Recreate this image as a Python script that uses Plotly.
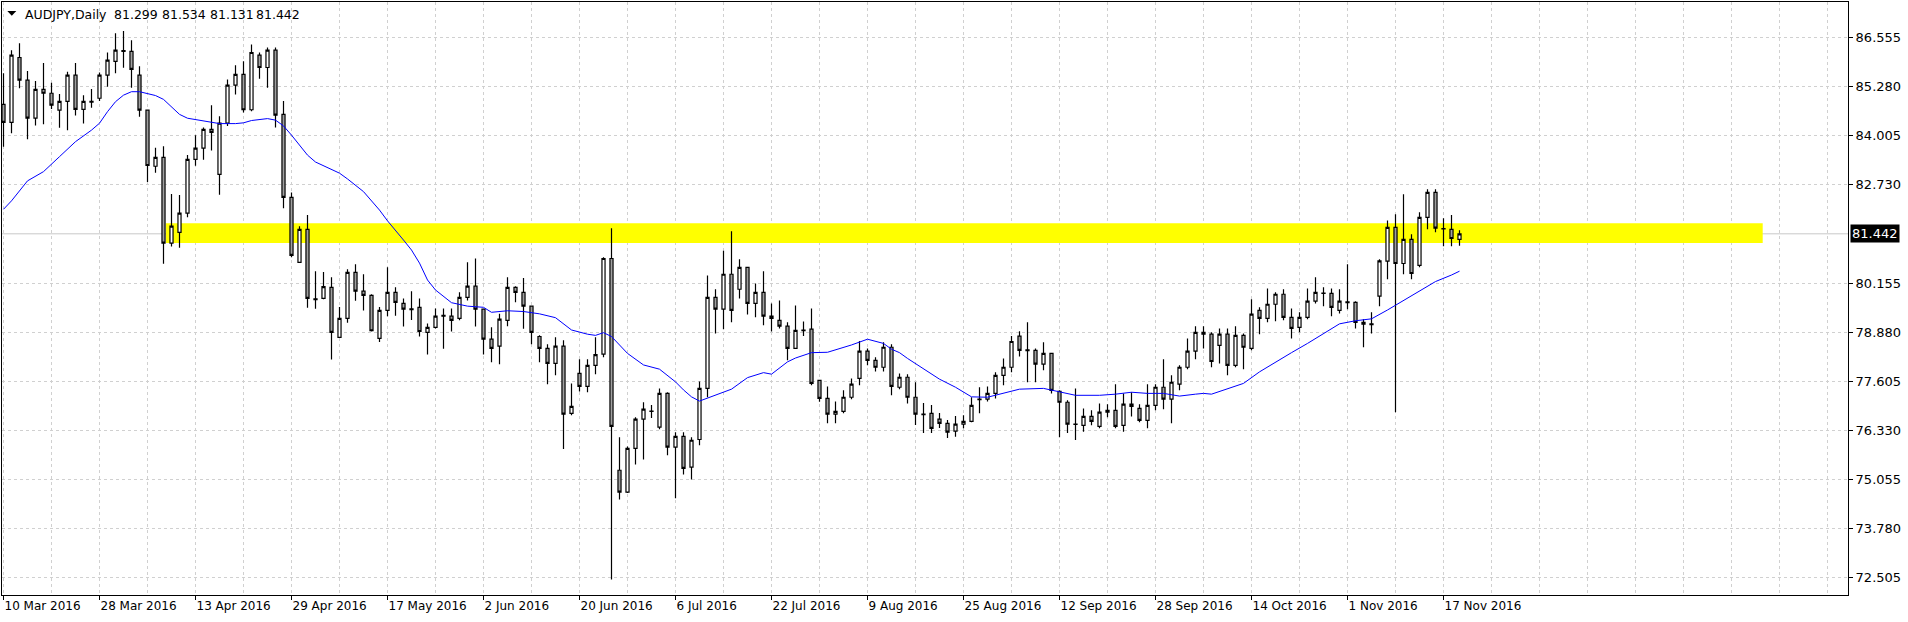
import plotly.graph_objects as go
import pandas as pd

# ---------------- data ----------------
dates = pd.bdate_range("2016-03-10", periods=183)
bar = list(range(len(dates)))

opens = [84.81,84.34,86.03,85.44,84.45,85.20,85.10,84.66,84.89,85.57,
         84.68,84.87,84.97,85.57,85.93,86.21,86.19,85.57,84.66,83.20,
         83.43,81.20,81.48,81.98,83.38,83.67,84.16,82.99,84.32,85.31,
         85.59,84.67,86.09,85.77,86.22,84.55,82.39,80.70,81.56,79.75,
         79.76,80.05,78.75,79.24,80.44,79.95,79.84,78.72,79.45,79.92,
         79.63,79.49,79.53,78.88,79.01,79.32,79.30,79.24,79.79,80.08,
         79.48,78.70,78.52,79.19,80.05,79.92,79.56,78.77,78.46,78.07,
         78.52,76.77,77.81,77.47,78.02,78.31,80.80,75.29,74.72,75.86,
         76.62,76.83,76.41,77.29,75.89,76.17,75.37,76.09,77.42,79.79,
         79.48,80.39,80.00,80.57,79.63,79.92,79.30,79.19,79.04,78.46,
         78.94,78.96,77.63,77.16,76.75,76.82,77.19,77.68,78.39,78.15,
         77.97,78.49,77.45,77.71,77.19,76.75,76.77,76.62,76.51,76.31,
         76.49,76.56,77.14,77.14,77.29,77.76,77.97,78.78,78.42,78.41,
         78.05,78.33,77.34,77.06,76.49,76.46,76.69,76.43,76.80,76.85,
         76.46,77.01,76.90,76.59,76.98,77.45,77.14,77.53,77.97,78.39,
         78.88,78.83,78.54,78.83,78.02,78.80,78.46,79.45,79.24,79.61,
         79.87,79.27,79.01,79.27,79.69,79.90,79.89,79.45,79.67,79.66,
         79.14,79.10,79.82,80.73,81.61,80.67,81.30,80.62,81.87,82.52,
         81.58,81.56,81.299]

highs = [85.62,86.22,86.40,85.68,85.42,85.89,85.37,85.08,85.66,85.89,
         85.05,85.21,85.64,86.16,86.66,86.72,86.48,85.80,84.67,83.68,
         83.72,82.48,82.45,83.49,84.01,84.21,84.79,84.50,85.46,85.83,
         85.93,86.37,86.16,86.29,86.29,84.90,82.52,81.64,81.93,80.47,
         80.45,80.31,79.54,80.52,80.65,80.39,79.87,79.54,80.57,80.05,
         79.76,79.95,79.76,79.11,79.50,79.50,79.50,79.92,80.70,80.80,
         79.50,79.01,79.36,80.31,80.08,80.29,79.58,78.80,78.57,78.75,
         78.67,77.55,78.18,78.18,78.75,80.83,81.59,76.15,75.91,76.67,
         77.06,76.99,77.42,77.32,76.28,76.28,76.15,77.60,80.36,80.00,
         81.00,81.51,80.78,80.58,80.15,80.47,79.63,79.71,79.14,79.58,
         79.16,79.50,77.63,77.47,77.08,77.37,77.68,78.65,78.46,78.23,
         78.62,78.57,77.81,77.79,77.58,77.04,76.99,76.78,76.60,76.70,
         76.72,77.19,77.45,77.47,77.84,78.20,78.78,78.91,79.14,78.46,
         78.62,78.33,77.37,77.11,77.42,76.90,76.85,77.03,77.01,77.53,
         77.29,77.32,77.01,77.53,77.53,78.18,77.76,78.02,78.72,79.04,
         79.04,78.88,78.98,78.98,79.04,78.85,79.74,79.53,80.02,79.92,
         80.00,79.50,79.40,80.02,80.31,80.05,80.02,80.00,80.65,79.69,
         79.22,79.40,80.78,81.79,81.95,82.47,81.43,82.00,82.60,82.60,
         81.85,81.93,81.534]

lows = [83.71,84.06,85.23,83.90,84.26,84.29,84.69,84.20,84.14,84.52,
        84.31,84.72,84.90,85.27,85.62,85.76,85.24,84.49,82.79,83.03,
        80.66,81.11,81.08,81.87,83.21,83.37,83.61,82.46,84.25,85.07,
        84.60,84.63,85.48,85.24,84.21,82.11,80.83,80.68,79.52,79.49,
        79.74,78.17,78.73,79.13,79.70,79.45,78.90,78.63,79.30,79.31,
        79.03,79.20,78.77,78.30,78.98,78.45,78.90,79.19,79.71,79.03,
        78.30,78.10,78.05,79.04,79.66,78.97,78.57,78.10,77.53,77.76,
        75.84,76.72,77.34,77.32,77.79,78.23,72.45,74.53,74.70,75.44,
        75.57,76.65,76.36,75.68,74.56,75.18,75.05,75.94,77.19,78.85,
        78.96,79.14,79.76,79.34,79.27,79.06,78.90,78.98,78.15,78.45,
        78.78,77.50,77.07,76.51,76.51,76.77,77.14,77.50,78.02,77.86,
        77.86,77.24,77.40,77.03,76.47,76.26,76.26,76.39,76.13,76.16,
        76.38,76.54,76.77,77.08,77.16,77.50,77.84,78.25,77.58,77.58,
        77.89,77.29,76.15,76.26,76.08,76.29,76.46,76.38,76.67,76.38,
        76.29,76.69,76.54,76.38,76.85,76.88,76.51,77.37,77.92,78.18,
        78.46,77.97,78.07,77.76,77.97,77.92,78.41,78.83,79.14,79.17,
        79.19,78.72,78.88,79.22,79.63,79.56,79.30,79.37,79.48,78.98,
        78.49,78.85,79.56,80.26,76.80,80.39,80.26,80.57,81.56,81.48,
        81.12,81.12,81.131]

closes = [84.34,86.09,85.44,84.45,85.20,85.10,84.79,84.89,85.57,84.68,
          84.89,84.89,85.57,85.96,86.22,86.19,85.72,84.66,83.22,83.43,
          81.20,81.64,81.98,83.38,83.67,84.16,84.08,84.32,85.31,85.59,
          84.67,86.16,85.77,86.22,84.53,82.39,80.88,81.56,79.76,79.73,
          80.07,78.88,79.24,80.44,79.95,79.84,78.92,79.45,79.92,79.66,
          79.48,79.47,78.90,79.01,79.30,79.30,79.19,79.79,80.08,79.48,
          78.70,78.46,79.22,80.05,79.92,79.56,78.88,78.46,78.07,78.52,
          76.75,76.95,77.47,78.02,78.30,80.80,76.43,74.72,75.86,76.62,
          76.88,76.82,77.29,75.89,76.17,75.34,76.07,77.42,79.79,79.48,
          80.39,79.45,80.57,79.63,79.92,79.30,79.24,79.04,78.46,78.93,
          78.92,77.55,77.16,76.75,76.82,77.19,77.53,78.39,78.15,77.97,
          78.49,77.47,77.71,77.19,76.75,76.74,76.38,76.51,76.28,76.49,
          76.56,76.98,77.13,77.29,77.76,77.97,78.64,78.41,78.40,78.05,
          78.33,77.37,77.06,76.49,76.48,76.69,76.56,76.80,76.85,76.43,
          77.01,76.95,76.59,76.98,77.45,77.14,77.58,77.97,78.39,78.88,
          78.83,78.12,78.83,78.02,78.80,78.49,79.35,79.24,79.61,79.87,
          79.27,78.98,79.27,79.69,79.92,79.89,79.53,79.69,79.65,79.14,
          79.09,79.08,80.74,81.61,80.67,81.30,80.41,81.87,82.52,81.59,
          81.57,81.32,81.442]

# moving average line at these bars
ma_bar = [0,1,3,5,7,9,11,12,13,14,15,16,17,18,19,20,21,22,23,25,27,29,30,31,33,34,
          35,36,37,38,39,40,42,43,45,47,48,50,51,52,53,54,55,56,58,60,61,63,65,67,
          69,71,73,74,75,76,78,80,82,84,85,86,87,89,91,93,95,96,98,99,101,103,106,
          108,110,111,112,113,115,117,119,121,123,125,127,130,132,134,137,139,141,
          143,145,147,149,150,151,153,155,157,159,161,163,165,167,169,171,173,175,
          177,179,181,182]
ma_val = [82.08,82.30,82.82,83.06,83.45,83.84,84.14,84.32,84.62,84.88,85.05,85.14,
          85.14,85.08,85.04,84.94,84.75,84.55,84.45,84.38,84.31,84.31,84.33,84.39,
          84.44,84.40,84.25,84.01,83.75,83.49,83.31,83.21,83.02,82.87,82.54,82.06,
          81.78,81.28,81.02,80.68,80.24,79.98,79.81,79.65,79.56,79.53,79.40,79.44,
          79.42,79.36,79.26,78.94,78.83,78.80,78.87,78.77,78.33,78.03,77.92,77.59,
          77.38,77.20,77.09,77.25,77.40,77.70,77.83,77.79,78.11,78.21,78.35,78.36,
          78.55,78.70,78.59,78.44,78.35,78.20,77.92,77.66,77.45,77.20,77.19,77.29,
          77.40,77.42,77.32,77.24,77.24,77.27,77.32,77.29,77.29,77.22,77.27,77.29,
          77.27,77.40,77.55,77.85,78.11,78.35,78.59,78.85,79.10,79.18,79.23,79.46,
          79.70,79.94,80.20,80.37,80.47]

tick_bars = [0,12,24,36,48,60,72,84,96,108,120,132,144,156,168,180]
tick_labels = ["10 Mar 2016","28 Mar 2016","13 Apr 2016","29 Apr 2016","17 May 2016",
               "2 Jun 2016","20 Jun 2016","6 Jul 2016","22 Jul 2016","9 Aug 2016",
               "25 Aug 2016","12 Sep 2016","28 Sep 2016","14 Oct 2016","1 Nov 2016",
               "17 Nov 2016"]
price_ticks = [86.555,85.280,84.005,82.730,80.155,78.880,77.605,76.330,75.055,73.780,72.505]
price_tick_labels = ["86.555","85.280","84.005","82.730","80.155","78.880","77.605",
                     "76.330","75.055","73.780","72.505"]

zone_low, zone_high = 81.20, 81.72
zone_start_bar, zone_end_bar = 20.3, 219.9
last_price = 81.442
last_price_label = "81.442"
symbol_text = "AUDJPY,Daily"
ohlc_texts = ["81.299", "81.534", "81.131", "81.442"]

# ---------------- figure ----------------
FONT = "DejaVu Sans"
GRID = "#d0d0d0"

fig = go.Figure()
fig.add_trace(go.Candlestick(
    x=bar, open=opens, high=highs, low=lows, close=closes,
    increasing=dict(line=dict(color="black", width=1.2), fillcolor="white"),
    decreasing=dict(line=dict(color="black", width=1.2), fillcolor="#a0a0a0"),
    whiskerwidth=0, showlegend=False, hoverinfo="skip"))
fig.add_trace(go.Scatter(x=ma_bar, y=ma_val, mode="lines",
                         line=dict(color="#0000ff", width=1), showlegend=False,
                         hoverinfo="skip"))

fig.add_shape(type="rect", xref="x", yref="y", x0=zone_start_bar, x1=zone_end_bar,
              y0=zone_low, y1=zone_high, fillcolor="#ffff00", line=dict(width=0),
              layer="between")
fig.add_shape(type="line", xref="paper", yref="y", x0=0, x1=1, y0=last_price,
              y1=last_price, line=dict(color="#c8c8c8", width=1), layer="between")

# header triangle
fig.add_shape(type="path", xref="paper", yref="paper", xsizemode="pixel",
              ysizemode="pixel", xanchor=0, yanchor=1,
              path="M 5.3 -9 L 14.3 -9 L 9.8 -13.7 Z",
              fillcolor="black", line=dict(width=0), layer="above")

fig.add_annotation(xref="paper", yref="y", x=1, y=last_price, xanchor="left",
                   xshift=2, text=last_price_label, showarrow=False,
                   bgcolor="black", font=dict(color="white", size=13, family=FONT),
                   borderpad=1)

# header texts, each pinned at its own horizontal position (pixels from plot left)
header_items = [symbol_text] + ohlc_texts
header_offsets = [21, 110, 158, 206, 252]
for txt, off in zip(header_items, header_offsets):
    fig.add_annotation(xref="paper", yref="paper", x=0, y=1, xanchor="left",
                       yanchor="middle", xshift=off, yshift=-12, text=txt,
                       showarrow=False, font=dict(color="black", size=12.5, family=FONT))

fig.update_layout(
    width=1908, height=622,
    margin=dict(l=2, r=60, t=2, b=27),
    paper_bgcolor="white", plot_bgcolor="white",
    font=dict(family=FONT, size=12, color="black"),
    boxgap=0.45,
    xaxis=dict(range=[-0.1875, 230.5625], rangeslider=dict(visible=False),
               tickmode="array", tickvals=tick_bars, ticktext=tick_labels,
               ticks="outside", ticklen=4, tickcolor="black",
               ticklabelposition="outside right",
               tickfont=dict(size=12, family=FONT),
               showgrid=True, gridcolor=GRID, griddash="3px,3px", gridwidth=1,
               minor=dict(tick0=0, dtick=6, showgrid=True, gridcolor=GRID,
                          griddash="3px,3px", gridwidth=1),
               showline=True, mirror=True, linecolor="black", linewidth=1,
               zeroline=False, fixedrange=True),
    yaxis=dict(side="right", range=[72.044, 87.474],
               tickmode="array", tickvals=price_ticks, ticktext=price_tick_labels,
               ticks="outside", ticklen=4, tickcolor="black",
               tickfont=dict(size=13, family=FONT),
               showgrid=True, gridcolor=GRID, griddash="3px,3px", gridwidth=1,
               showline=True, mirror=True, linecolor="black", linewidth=1,
               zeroline=False, fixedrange=True),
)

fig.write_html("out.html")
